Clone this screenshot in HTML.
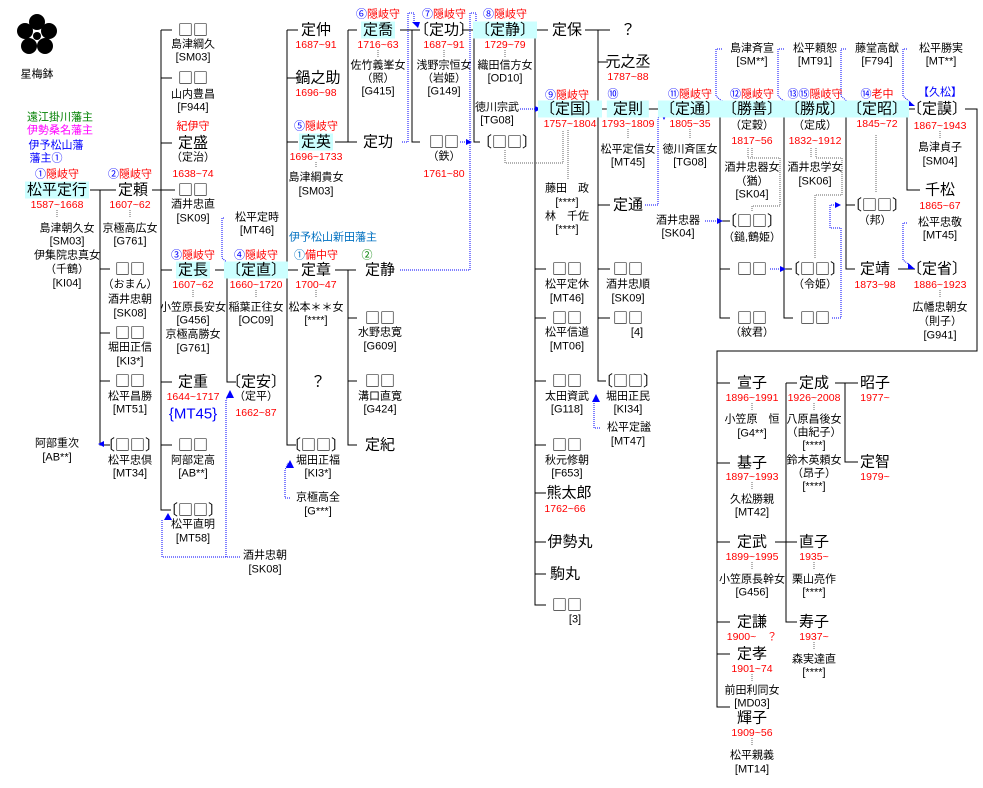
<!DOCTYPE html>
<html><head><meta charset="utf-8"><style>
body{margin:0;width:983px;height:788px;background:#fff;position:relative;overflow:hidden;font-family:"Liberation Sans","Noto Sans CJK JP",sans-serif;color:#000}
i{position:absolute;font-style:normal;white-space:nowrap;transform:translate(-50%,-50%);line-height:1}
b{font-weight:normal;font-family:"Noto Sans CJK JP",sans-serif}
.n{font-size:15px}.s{font-size:11px}.r{font-size:10.5px;color:#f00}
.h{background:#ccffff;padding:1px 2px}
u{text-decoration:none;color:#00f}
.k{font-size:11px;color:#f00}
svg{position:absolute;left:0;top:0}
</style></head><body>
<svg width="983" height="788">
<g fill="#000"><circle cx="37" cy="22" r="8"/><circle cx="25" cy="31" r="8"/><circle cx="49" cy="31" r="8"/><circle cx="29" cy="46" r="8"/><circle cx="45" cy="46" r="8"/><circle cx="37" cy="36" r="4"/></g>
<g stroke="#000" stroke-width="1" fill="none">
<path d="M90 190H116M100 190V445H110M100 269H110M100 333H110M100 381H110"/>
<path d="M152 190H175M161 30V510H171M161 30H172M161 78H172M161 143H172M161 270H172M161 382H172M161 445H172"/>
<path d="M215 270H238M227 270V382H236"/>
<path d="M279 270H298M287 30V445H296M287 30H298M287 78H298M287 142H298"/>
<path d="M335 142H357M348 30V142M348 30H357M335 270H356M348 270V445H357M348 318H357M348 381H357"/>
<path d="M400 30H420M412 30V142H420"/>
<path d="M462 30H480M474 30V142H480"/>
<path d="M520 30H548M535 30V605H546M535 269H546M535 318H546M535 381H546M535 445H546M535 493H546M535 542H546M535 574H546"/>
<path d="M585 30H610M598 30V381H606M598 62H608M598 109H610M598 205H610M598 269H610M598 318H610M595 109H610"/>
<path d="M648 109H670"/>
<path d="M713 109H730M720 109V318H730M720 221H730M720 269H730"/>
<path d="M776 109H792M784 109V318H793M784 269H792"/>
<path d="M835 109H850M846 109V269H855M846 205H855"/>
<path d="M898 109H915M907 109V190H920M898 269H915M965 109H977V351H717V707H730M717 383H730M717 463H730M717 542H730M717 622H730M717 654H730"/>
<path d="M775 542H797M786 383V622H797M786 383H797"/>
<path d="M835 383H858M845 383V462H858"/>
</g>
<g stroke="#666" stroke-width="1" stroke-dasharray="1,1" fill="none">
<path d="M57 210V218M130 210V218M193 290V298M256 290V298M316 162V168M316 290V298M378 50V57M444 50V57M505 50V57M628 129V138M690 129V138M752 403V410M752 482V490M752 562V570M752 674V681M752 738V745M814 403V410M814 562V570M814 642V650M940 131V138M940 290V298"/>
<path d="M505 150V163H563V130M568 130V180"/>
<path d="M748 148V158H780V206H752V212M752 148V158"/>
<path d="M811 148V158M816 148V158H842V195H815V258"/>
<path d="M876 135V192"/>
</g>
<g stroke="#00f" stroke-width="1" stroke-dasharray="1,1" fill="none">
<path d="M224 218H222V258L229 264"/>
<path d="M240 557H162V520"/>
<path d="M226 557V400L230 394"/>
<path d="M290 498H285V470L288 463"/>
<path d="M402 142H408V13H414V22"/>
<path d="M400 270H470V13H476V22"/>
<path d="M460 142H468"/>
<path d="M520 109H536"/>
<path d="M600 428H594V400"/>
<path d="M645 205H658V118L664 113"/>
<path d="M705 221H718"/>
<path d="M770 269H782"/>
<path d="M832 318H841V228H830V205H837"/>
<path d="M722 49H716V96L724 103"/>
<path d="M784 49H778V96L786 103"/>
<path d="M846 49H841V96L849 103"/>
<path d="M907 49H903V96L911 103"/>
<path d="M907 223H903V260L911 266"/>
</g>
<g fill="#00f">
<path d="M224 262L232 266L226 268Z"/><path d="M98 444L104 441V447Z"/><path d="M168 513L164 520H172Z"/><path d="M230 390L226 398H234Z"/><path d="M290 460L286 468H294Z"/>
<path d="M418 28L412 22H420Z"/><path d="M480 28L474 22H482Z"/><path d="M472 142L466 139V145Z"/><path d="M541 109L535 106V112Z"/>
<path d="M596 394L592 402H600Z"/><path d="M668 112L662 116L664 120Z"/><path d="M723 221L717 218V224Z"/><path d="M786 269L780 266V272Z"/><path d="M841 205L835 202V208Z"/>
<path d="M729 106L722 100L722 106Z"/><path d="M791 106L784 100V106Z"/><path d="M853 106L846 100V106Z"/><path d="M915 106L908 100V106Z"/><path d="M915 269L908 263V269Z"/>
</g>
</svg>

<i class="s" style="left:37px;top:75px">星梅鉢</i>
<i class="s" style="left:60px;top:118px;color:#008000">遠江掛川藩主</i>
<i class="s" style="left:60px;top:131px;color:#f0f">伊勢桑名藩主</i>
<i class="s" style="left:56px;top:146px;color:#00f">伊予松山藩</i>
<i class="s" style="left:46px;top:159px;color:#00f">藩主①</i>

<i class="k" style="left:57px;top:175px"><u>①</u>隠岐守</i>
<i class="n h" style="left:57px;top:190px">松平定行</i>
<i class="r" style="left:57px;top:205px">1587~1668</i>
<i class="s" style="left:67px;top:229px">島津朝久女</i><i class="s" style="left:67px;top:242px">[SM03]</i>
<i class="s" style="left:67px;top:256px">伊集院忠真女</i><i class="s" style="left:67px;top:270px">（千鶴）</i><i class="s" style="left:67px;top:284px">[KI04]</i>
<i class="s" style="left:57px;top:444px">阿部重次</i><i class="s" style="left:57px;top:458px">[AB**]</i>

<i class="k" style="left:130px;top:175px"><u>②</u>隠岐守</i>
<i class="n" style="left:133px;top:190px">定頼</i>
<i class="r" style="left:130px;top:205px">1607~62</i>
<i class="s" style="left:130px;top:229px">京極高広女</i><i class="s" style="left:130px;top:242px">[G761]</i>
<i class="n" style="left:130px;top:269px"><b>□□</b></i><i class="s" style="left:130px;top:285px">（おまん）</i><i class="s" style="left:130px;top:300px">酒井忠朝</i><i class="s" style="left:130px;top:314px">[SK08]</i>
<i class="n" style="left:130px;top:333px"><b>□□</b></i><i class="s" style="left:130px;top:348px">堀田正信</i><i class="s" style="left:130px;top:362px">[KI3*]</i>
<i class="n" style="left:130px;top:381px"><b>□□</b></i><i class="s" style="left:130px;top:397px">松平昌勝</i><i class="s" style="left:130px;top:410px">[MT51]</i>
<i class="n" style="left:130px;top:445px">〔<b>□□</b>〕</i><i class="s" style="left:130px;top:461px">松平忠倶</i><i class="s" style="left:130px;top:474px">[MT34]</i>

<i class="n" style="left:193px;top:30px"><b>□□</b></i><i class="s" style="left:193px;top:45px">島津綱久</i><i class="s" style="left:193px;top:58px">[SM03]</i>
<i class="n" style="left:193px;top:78px"><b>□□</b></i><i class="s" style="left:193px;top:95px">山内豊昌</i><i class="s" style="left:193px;top:108px">[F944]</i>
<i class="k" style="left:193px;top:127px">紀伊守</i><i class="n" style="left:193px;top:143px">定盛</i><i class="s" style="left:193px;top:158px">（定治）</i><i class="r" style="left:193px;top:174px">1638~74</i>
<i class="n" style="left:193px;top:190px"><b>□□</b></i><i class="s" style="left:193px;top:205px">酒井忠直</i><i class="s" style="left:193px;top:219px">[SK09]</i>
<i class="k" style="left:193px;top:256px"><u>③</u>隠岐守</i><i class="n h" style="left:193px;top:270px">定長</i><i class="r" style="left:193px;top:285px">1607~62</i>
<i class="s" style="left:193px;top:308px">小笠原長安女</i><i class="s" style="left:193px;top:321px">[G456]</i><i class="s" style="left:193px;top:335px">京極高勝女</i><i class="s" style="left:193px;top:349px">[G761]</i>
<i class="n" style="left:193px;top:382px">定重</i><i class="r" style="left:193px;top:397px">1644~1717</i><i class="n" style="left:193px;top:414px;color:#00f">{MT45}</i>
<i class="n" style="left:193px;top:445px"><b>□□</b></i><i class="s" style="left:193px;top:461px">阿部定高</i><i class="s" style="left:193px;top:474px">[AB**]</i>
<i class="n" style="left:193px;top:510px">〔<b>□□</b>〕</i><i class="s" style="left:193px;top:525px">松平直明</i><i class="s" style="left:193px;top:539px">[MT58]</i>

<i class="s" style="left:257px;top:218px">松平定時</i><i class="s" style="left:257px;top:231px">[MT46]</i>
<i class="k" style="left:256px;top:256px"><u>④</u>隠岐守</i><i class="n h" style="left:256px;top:270px">〔定直〕</i><i class="r" style="left:256px;top:285px">1660~1720</i>
<i class="s" style="left:256px;top:308px">稲葉正往女</i><i class="s" style="left:256px;top:321px">[OC09]</i>
<i class="n" style="left:256px;top:382px">〔定安〕</i><i class="s" style="left:256px;top:397px">（定平）</i><i class="r" style="left:256px;top:413px">1662~87</i>
<i class="s" style="left:265px;top:556px">酒井忠朝</i><i class="s" style="left:265px;top:570px">[SK08]</i>

<i class="n" style="left:316px;top:30px">定仲</i><i class="r" style="left:316px;top:45px">1687~91</i>
<i class="n" style="left:318px;top:78px">鍋之助</i><i class="r" style="left:316px;top:93px">1696~98</i>
<i class="k" style="left:316px;top:127px"><u>⑤</u>隠岐守</i><i class="n h" style="left:316px;top:142px">定英</i><i class="r" style="left:316px;top:157px">1696~1733</i>
<i class="s" style="left:316px;top:178px">島津綱貴女</i><i class="s" style="left:316px;top:192px">[SM03]</i>
<i class="s" style="left:333px;top:238px;color:#0070c0">伊予松山新田藩主</i>
<i class="k" style="left:316px;top:256px"><u style="color:#0070c0">①</u>備中守</i><i class="n" style="left:316px;top:270px">定章</i><i class="r" style="left:316px;top:285px">1700~47</i>
<i class="s" style="left:316px;top:308px">松本＊＊女</i><i class="s" style="left:316px;top:321px">[****]</i>
<i class="n" style="left:318px;top:382px">？</i>
<i class="n" style="left:316px;top:445px">〔<b>□□</b>〕</i><i class="s" style="left:318px;top:461px">堀田正福</i><i class="s" style="left:318px;top:474px">[KI3*]</i>
<i class="s" style="left:318px;top:498px">京極高全</i><i class="s" style="left:318px;top:512px">[G***]</i>

<i class="k" style="left:378px;top:15px"><u>⑥</u>隠岐守</i><i class="n h" style="left:378px;top:30px">定喬</i><i class="r" style="left:378px;top:45px">1716~63</i>
<i class="s" style="left:378px;top:66px">佐竹義峯女</i><i class="s" style="left:378px;top:79px">（照）</i><i class="s" style="left:378px;top:92px">[G415]</i>
<i class="n" style="left:378px;top:142px">定功</i>
<i class="s" style="left:367px;top:256px;color:#008000">②</i><i class="n" style="left:380px;top:270px">定静</i>
<i class="n" style="left:380px;top:318px"><b>□□</b></i><i class="s" style="left:380px;top:333px">水野忠寛</i><i class="s" style="left:380px;top:347px">[G609]</i>
<i class="n" style="left:380px;top:381px"><b>□□</b></i><i class="s" style="left:380px;top:397px">溝口直寛</i><i class="s" style="left:380px;top:410px">[G424]</i>
<i class="n" style="left:380px;top:445px">定紀</i>

<i class="k" style="left:444px;top:15px"><u>⑦</u>隠岐守</i><i class="n" style="left:444px;top:30px">〔定功〕</i><i class="r" style="left:444px;top:45px">1687~91</i>
<i class="s" style="left:444px;top:66px">浅野宗恒女</i><i class="s" style="left:444px;top:79px">（岩姫）</i><i class="s" style="left:444px;top:92px">[G149]</i>
<i class="n" style="left:444px;top:142px"><b>□□</b></i><i class="s" style="left:444px;top:157px">（鉄）</i><i class="r" style="left:444px;top:174px">1761~80</i>

<i class="k" style="left:505px;top:15px"><u>⑧</u>隠岐守</i><i class="n h" style="left:505px;top:30px">〔定静〕</i><i class="r" style="left:505px;top:45px">1729~79</i>
<i class="s" style="left:505px;top:66px">織田信方女</i><i class="s" style="left:505px;top:79px">[OD10]</i>
<i class="s" style="left:497px;top:108px">徳川宗武</i><i class="s" style="left:497px;top:121px">[TG08]</i>
<i class="n" style="left:507px;top:142px">〔<b>□□</b>〕</i>

<i class="n" style="left:567px;top:30px">定保</i>
<i class="k" style="left:567px;top:96px"><u>⑨</u>隠岐守</i><i class="n h" style="left:570px;top:109px">〔定国〕</i><i class="r" style="left:570px;top:124px">1757~1804</i>
<i class="s" style="left:567px;top:189px">藤田　政</i><i class="s" style="left:567px;top:203px">[****]</i><i class="s" style="left:567px;top:217px">林　千佐</i><i class="s" style="left:567px;top:230px">[****]</i>
<i class="n" style="left:567px;top:269px"><b>□□</b></i><i class="s" style="left:567px;top:285px">松平定休</i><i class="s" style="left:567px;top:299px">[MT46]</i>
<i class="n" style="left:567px;top:318px"><b>□□</b></i><i class="s" style="left:567px;top:333px">松平信道</i><i class="s" style="left:567px;top:347px">[MT06]</i>
<i class="n" style="left:567px;top:381px"><b>□□</b></i><i class="s" style="left:567px;top:397px">太田資武</i><i class="s" style="left:567px;top:410px">[G118]</i>
<i class="n" style="left:567px;top:445px"><b>□□</b></i><i class="s" style="left:567px;top:461px">秋元修朝</i><i class="s" style="left:567px;top:474px">[F653]</i>
<i class="n" style="left:569px;top:493px">熊太郎</i><i class="r" style="left:565px;top:509px">1762~66</i>
<i class="n" style="left:570px;top:542px">伊勢丸</i>
<i class="n" style="left:565px;top:574px">駒丸</i>
<i class="n" style="left:567px;top:605px"><b>□□</b></i><i class="s" style="left:575px;top:620px">[3]</i>

<i class="n" style="left:628px;top:30px">？</i>
<i class="n" style="left:628px;top:62px">元之丞</i><i class="r" style="left:628px;top:77px">1787~88</i>
<i class="s" style="left:613px;top:95px;color:#00f">⑩</i><i class="n h" style="left:628px;top:109px">&nbsp;定則&nbsp;</i><i class="r" style="left:628px;top:124px">1793~1809</i>
<i class="s" style="left:628px;top:150px">松平定信女</i><i class="s" style="left:628px;top:163px">[MT45]</i>
<i class="n" style="left:628px;top:205px">定通</i>
<i class="n" style="left:628px;top:269px"><b>□□</b></i><i class="s" style="left:628px;top:285px">酒井忠順</i><i class="s" style="left:628px;top:299px">[SK09]</i>
<i class="n" style="left:628px;top:318px"><b>□□</b></i><i class="s" style="left:637px;top:333px">[4]</i>
<i class="n" style="left:628px;top:381px">〔<b>□□</b>〕</i><i class="s" style="left:628px;top:397px">堀田正民</i><i class="s" style="left:628px;top:410px">[KI34]</i>
<i class="s" style="left:629px;top:428px">松平定謐</i><i class="s" style="left:628px;top:442px">[MT47]</i>

<i class="k" style="left:690px;top:95px"><u>⑪</u>隠岐守</i><i class="n h" style="left:690px;top:109px">〔定通〕</i><i class="r" style="left:690px;top:124px">1805~35</i>
<i class="s" style="left:690px;top:150px">徳川斉匡女</i><i class="s" style="left:690px;top:163px">[TG08]</i>
<i class="s" style="left:678px;top:221px">酒井忠器</i><i class="s" style="left:678px;top:234px">[SK04]</i>

<i class="s" style="left:752px;top:49px">島津斉宣</i><i class="s" style="left:752px;top:62px">[SM**]</i>
<i class="k" style="left:752px;top:95px"><u>⑫</u>隠岐守</i><i class="n h" style="left:752px;top:109px">〔勝善〕</i><i class="s" style="left:752px;top:126px">（定穀）</i><i class="r" style="left:752px;top:141px">1817~56</i>
<i class="s" style="left:752px;top:168px">酒井忠器女</i><i class="s" style="left:752px;top:182px">（猶）</i><i class="s" style="left:752px;top:195px">[SK04]</i>
<i class="n" style="left:752px;top:221px">〔<b>□□</b>〕</i><i class="s" style="left:752px;top:238px">（鎚,鶴姫）</i>
<i class="n" style="left:752px;top:269px"><b>□□</b></i>
<i class="n" style="left:752px;top:318px"><b>□□</b></i><i class="s" style="left:752px;top:333px">（紋君）</i>

<i class="s" style="left:815px;top:49px">松平頼恕</i><i class="s" style="left:815px;top:62px">[MT91]</i>
<i class="k" style="left:815px;top:95px"><u>⑬⑮</u>隠岐守</i><i class="n h" style="left:815px;top:109px">〔勝成〕</i><i class="s" style="left:815px;top:126px">（定成）</i><i class="r" style="left:815px;top:141px">1832~1912</i>
<i class="s" style="left:815px;top:168px">酒井忠学女</i><i class="s" style="left:815px;top:182px">[SK06]</i>
<i class="n" style="left:815px;top:269px">〔<b>□□</b>〕</i><i class="s" style="left:815px;top:285px">（令姫）</i>
<i class="n" style="left:815px;top:318px"><b>□□</b></i>

<i class="s" style="left:877px;top:49px">藤堂高猷</i><i class="s" style="left:877px;top:62px">[F794]</i>
<i class="k" style="left:877px;top:95px"><u>⑭</u>老中</i><i class="n h" style="left:877px;top:109px">〔定昭〕</i><i class="r" style="left:877px;top:124px">1845~72</i>
<i class="n" style="left:877px;top:205px">〔<b>□□</b>〕</i><i class="s" style="left:875px;top:221px">（邦）</i>
<i class="n" style="left:875px;top:269px">定靖</i><i class="r" style="left:875px;top:285px">1873~98</i>

<i class="s" style="left:941px;top:49px">松平勝実</i><i class="s" style="left:941px;top:62px">[MT**]</i>
<i class="s" style="left:940px;top:93px;color:#00f">【久松】</i><i class="n" style="left:937px;top:109px">〔定謨〕</i><i class="r" style="left:940px;top:126px">1867~1943</i>
<i class="s" style="left:940px;top:148px">島津貞子</i><i class="s" style="left:940px;top:162px">[SM04]</i>
<i class="n" style="left:940px;top:190px">千松</i><i class="r" style="left:940px;top:206px">1865~67</i>
<i class="s" style="left:940px;top:223px">松平忠敬</i><i class="s" style="left:940px;top:236px">[MT45]</i>
<i class="n" style="left:937px;top:269px">〔定省〕</i><i class="r" style="left:940px;top:285px">1886~1923</i>
<i class="s" style="left:940px;top:308px">広幡忠朝女</i><i class="s" style="left:940px;top:322px">（則子）</i><i class="s" style="left:940px;top:336px">[G941]</i>

<i class="n" style="left:752px;top:383px">宣子</i><i class="r" style="left:752px;top:398px">1896~1991</i><i class="s" style="left:752px;top:420px">小笠原　恒</i><i class="s" style="left:752px;top:434px">[G4**]</i>
<i class="n" style="left:752px;top:463px">基子</i><i class="r" style="left:752px;top:477px">1897~1993</i><i class="s" style="left:752px;top:500px">久松勝親</i><i class="s" style="left:752px;top:513px">[MT42]</i>
<i class="n" style="left:752px;top:542px">定武</i><i class="r" style="left:752px;top:557px">1899~1995</i><i class="s" style="left:752px;top:580px">小笠原長幹女</i><i class="s" style="left:752px;top:593px">[G456]</i>
<i class="n" style="left:752px;top:622px">定謙</i><i class="r" style="left:752px;top:637px">1900~　？</i>
<i class="n" style="left:752px;top:654px">定孝</i><i class="r" style="left:752px;top:669px">1901~74</i><i class="s" style="left:752px;top:691px">前田利同女</i><i class="s" style="left:752px;top:704px">[MD03]</i>
<i class="n" style="left:752px;top:718px">輝子</i><i class="r" style="left:752px;top:733px">1909~56</i><i class="s" style="left:752px;top:756px">松平親義</i><i class="s" style="left:752px;top:770px">[MT14]</i>

<i class="n" style="left:814px;top:383px">定成</i><i class="r" style="left:814px;top:398px">1926~2008</i><i class="s" style="left:814px;top:420px">八原昌後女</i><i class="s" style="left:814px;top:433px">（由紀子）</i><i class="s" style="left:814px;top:446px">[****]</i>
<i class="s" style="left:814px;top:461px">鈴木英頼女</i><i class="s" style="left:814px;top:474px">（昂子）</i><i class="s" style="left:814px;top:487px">[****]</i>
<i class="n" style="left:814px;top:542px">直子</i><i class="r" style="left:814px;top:557px">1935~</i><i class="s" style="left:814px;top:580px">栗山亮作</i><i class="s" style="left:814px;top:593px">[****]</i>
<i class="n" style="left:814px;top:622px">寿子</i><i class="r" style="left:814px;top:637px">1937~</i><i class="s" style="left:814px;top:660px">森実達直</i><i class="s" style="left:814px;top:673px">[****]</i>
<i class="n" style="left:875px;top:383px">昭子</i><i class="r" style="left:875px;top:398px">1977~</i>
<i class="n" style="left:875px;top:462px">定智</i><i class="r" style="left:875px;top:477px">1979~</i>
</body></html>
